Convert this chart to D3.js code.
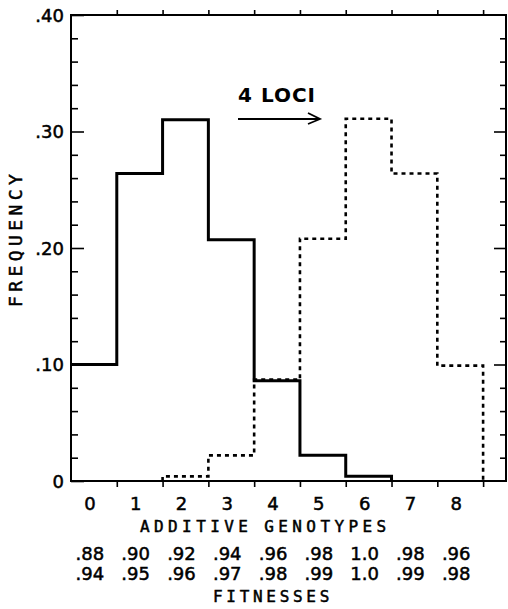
<!DOCTYPE html>
<html>
<head>
<meta charset="utf-8">
<script src="https://cdn.jsdelivr.net/npm/d3@7"></script>
<style>
  html, body { margin: 0; padding: 0; background: #fff; }
  svg { display: block; }
  .num { font-family: "DejaVu Sans", sans-serif; fill: #000; stroke: #000; stroke-width: 0.5; }
  .let { font-family: "DejaVu Sans Mono", monospace; fill: #000; stroke: #000; stroke-width: 0.5; }
</style>
</head>
<body>
<svg id="chart" width="508" height="609"></svg>
<script>
// ---- data ----
const categories = [0, 1, 2, 3, 4, 5, 6, 7, 8];
const solidFreq  = [0.100, 0.264, 0.310, 0.207, 0.086, 0.022, 0.004, 0, 0];
const dottedFreq = [0, 0, 0.004, 0.022, 0.087, 0.208, 0.311, 0.264, 0.099];
const fitnessTop    = [".88", ".90", ".92", ".94", ".96", ".98", "1.0", ".98", ".96"];
const fitnessBottom = [".94", ".95", ".96", ".97", ".98", ".99", "1.0", ".99", ".98"];
const yMajorTicks = [0, 0.10, 0.20, 0.30, 0.40];
const yTickLabels = ["0", ".10", ".20", ".30", ".40"];
const yMinorTicks = [0.02, 0.04, 0.06, 0.08, 0.12, 0.14, 0.16, 0.18, 0.22, 0.24, 0.26, 0.28, 0.32, 0.34, 0.36, 0.38];
const binEdges = [0.5, 1.5, 2.5, 3.5, 4.5, 5.5, 6.5, 7.5, 8.5];

const svg = d3.select("#chart");
const x = d3.scaleLinear().domain([-0.5, 9]).range([71, 506]);
const y = d3.scaleLinear().domain([0, 0.40]).range([481, 15]);

// frame
svg.append("rect")
  .attr("x", x(-0.5)).attr("y", y(0.40))
  .attr("width", x(9) - x(-0.5)).attr("height", y(0) - y(0.40))
  .attr("fill", "none").attr("stroke", "#000").attr("stroke-width", 2);

function styleAxis(g) {
  g.select(".domain").remove();
  g.selectAll("line").attr("stroke", "#000").attr("stroke-width", 1.6);
}

// left axis major ticks (inward) with labels
svg.append("g").attr("transform", `translate(${x(-0.5)},0)`)
  .call(d3.axisLeft(y).tickValues(yMajorTicks)
    .tickFormat((d, i) => yTickLabels[i]).tickSizeInner(-13).tickSizeOuter(0).tickPadding(7))
  .call(styleAxis)
  .call(g => g.selectAll("text").attr("class", "num").attr("font-size", 18).attr("dy", "0.36em"));
// left minor ticks
svg.append("g").attr("transform", `translate(${x(-0.5)},0)`)
  .call(d3.axisLeft(y).tickValues(yMinorTicks).tickFormat("").tickSizeInner(-7).tickSizeOuter(0))
  .call(styleAxis);
// right axis ticks (inward)
svg.append("g").attr("transform", `translate(${x(9)},0)`)
  .call(d3.axisRight(y).tickValues([0.10, 0.20, 0.30]).tickFormat("").tickSizeInner(-12).tickSizeOuter(0))
  .call(styleAxis);
svg.append("g").attr("transform", `translate(${x(9)},0)`)
  .call(d3.axisRight(y).tickValues(yMinorTicks).tickFormat("").tickSizeInner(-6).tickSizeOuter(0))
  .call(styleAxis);
// bottom ticks (outward)
svg.append("g").attr("transform", `translate(0,${y(0)})`)
  .call(d3.axisBottom(x).tickValues(binEdges).tickFormat("").tickSizeInner(6).tickSizeOuter(0))
  .call(styleAxis);
// top ticks (outward)
svg.append("g").attr("transform", `translate(0,${y(0.40)})`)
  .call(d3.axisTop(x).tickValues(binEdges).tickFormat("").tickSizeInner(5).tickSizeOuter(0))
  .call(styleAxis);

// histogram step paths
function stepPoints(vals) {
  const nz = vals.map((v, i) => v > 0 ? i : -1).filter(i => i >= 0);
  const f = nz[0], l = nz[nz.length - 1];
  const pts = [];
  if (f > 0) pts.push([f - 0.5, 0]);
  for (let i = f; i <= l; i++) pts.push([i - 0.5, vals[i]]);
  pts.push([l + 0.5, 0]);
  return pts;
}
const line = d3.line().x(d => x(d[0])).y(d => y(d[1])).curve(d3.curveStepAfter);

svg.append("path").attr("d", line(stepPoints(solidFreq)))
  .attr("fill", "none").attr("stroke", "#000").attr("stroke-width", 3).attr("stroke-linejoin", "miter");
svg.append("path").attr("d", line(stepPoints(dottedFreq)))
  .attr("fill", "none").attr("stroke", "#000").attr("stroke-width", 2.6).attr("stroke-dasharray", "4,4");

// annotation
svg.append("text").attr("x", 238).attr("y", 102)
  .attr("font-family", "DejaVu Sans, sans-serif").attr("font-weight", "bold")
  .attr("font-size", 20).attr("letter-spacing", 1).text("4 LOCI");
svg.append("line").attr("x1", 238).attr("y1", 119).attr("x2", 319).attr("y2", 119)
  .attr("stroke", "#000").attr("stroke-width", 1.8);
svg.append("path").attr("d", "M308,113 L320,119 L308,124")
  .attr("fill", "none").attr("stroke", "#000").attr("stroke-width", 1.8);

// category labels
svg.append("g").selectAll("text").data(categories).join("text")
  .attr("class", "num").attr("font-size", 18).attr("text-anchor", "middle")
  .attr("x", d => x(d) - 4).attr("y", 510).text(d => d);

// fitness rows
svg.append("g").selectAll("text").data(fitnessTop).join("text")
  .attr("class", "num").attr("font-size", 18).attr("text-anchor", "middle")
  .attr("x", (d, i) => x(categories[i]) - 4).attr("y", 560).text(d => d);
svg.append("g").selectAll("text").data(fitnessBottom).join("text")
  .attr("class", "num").attr("font-size", 18).attr("text-anchor", "middle")
  .attr("x", (d, i) => x(categories[i]) - 4).attr("y", 580).text(d => d);

// axis titles
const xt = svg.append("text").attr("class", "let").attr("font-size", 16)
  .attr("letter-spacing", 4.4).attr("x", 140).attr("y", 532);
xt.append("tspan").text("ADDITIVE");
xt.append("tspan").attr("dx", 12).text("GENOTYPES");

svg.append("text").attr("class", "let").attr("font-size", 16).attr("letter-spacing", 3.7)
  .attr("x", 213).attr("y", 602).text("FITNESSES");

svg.append("text").attr("class", "let").attr("font-size", 18).attr("letter-spacing", 4.4)
  .attr("transform", "translate(22,307) rotate(-90)").text("FREQUENCY");
</script>
</body>
</html>
